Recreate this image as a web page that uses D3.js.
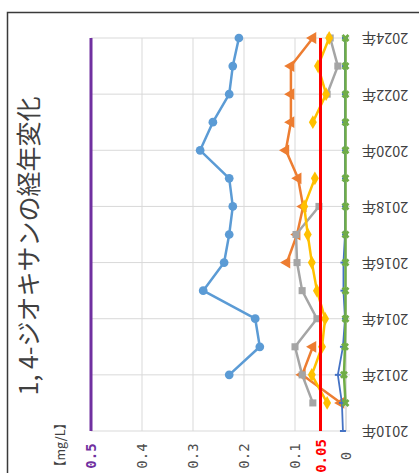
<!DOCTYPE html>
<html>
<head>
<meta charset="utf-8">
<script src="https://cdn.jsdelivr.net/npm/d3@7"></script>
<style>
  html, body { margin: 0; padding: 0; background: #fff; }
  svg { display: block; }
</style>
</head>
<body>
<div id="chart"></div>
<script>
// chart data
var years = [2010, 2011, 2012, 2013, 2014, 2015, 2016, 2017, 2018, 2019, 2020, 2021, 2022, 2023, 2024];
var yearLabels = [2010, 2012, 2014, 2016, 2018, 2020, 2022, 2024];
var valueTicks = [0.5, 0.4, 0.3, 0.2, 0.1, 0.05, 0];
var gridValues = [0.4, 0.3, 0.2, 0.1];

var seriesBlue   = [null, null, 0.229, 0.169, 0.178, 0.280, 0.239, 0.229, 0.222, 0.229, 0.286, 0.261, 0.229, 0.222, 0.210];
var seriesOrange = [null, 0.010, 0.086, 0.065, null, null, 0.116, 0.096, 0.084, 0.094, 0.118, 0.108, 0.108, 0.108, 0.065];
var seriesGray   = [null, 0.065, 0.086, 0.100, 0.057, 0.086, 0.096, 0.098, 0.053, null, null, null, 0.037, 0.016, 0.031];
var seriesYellow = [null, 0.037, 0.067, 0.047, 0.041, 0.057, 0.067, 0.075, 0.082, 0.061, null, 0.065, 0.039, 0.055, 0.033];
var seriesNavy   = [0.006, 0.008, 0.016, 0.006, 0.002, 0.005, 0.005, 0.002, 0.002, 0.002, 0.002, 0.002, 0.002, 0.002, 0.002];
var seriesGreen  = [null, 0.001, 0.004, 0.002, 0.001, 0.001, 0.001, 0.001, 0.001, 0.001, 0.001, 0.001, 0.001, 0.001, 0.001];

var limitLines = [0.5, 0.05];

var width = 419, height = 473;

var svg = d3.select("#chart").append("svg")
    .attr("width", width)
    .attr("height", height)
    .style("background", "#fff");

// the chart is drawn turned on its side: values run right to left, years bottom to top
var x = d3.scaleLinear().domain([0.5, 0]).range([91, 346]);
var y = d3.scaleLinear().domain([2010, 2024]).range([431, 38]);

// frame
svg.append("path")
    .attr("d", "M7.5,473 L7.5,12.5 L419,12.5")
    .attr("fill", "none")
    .attr("stroke", "#3a3a3a")
    .attr("stroke-width", 1.5);

// gridlines
var grid = svg.append("g").attr("stroke", "#d9d9d9").attr("stroke-width", 1);
grid.selectAll(".vg")
  .data(gridValues)
  .enter().append("line")
    .attr("x1", function (d) { return x(d); })
    .attr("x2", function (d) { return x(d); })
    .attr("y1", y(2024))
    .attr("y2", y(2010));
grid.selectAll(".hg")
  .data(yearLabels)
  .enter().append("line")
    .attr("x1", x(0.5))
    .attr("x2", x(0) + 4)
    .attr("y1", function (d) { return y(d); })
    .attr("y2", function (d) { return y(d); });
grid.append("line")
    .attr("x1", x(0)).attr("x2", x(0))
    .attr("y1", y(2024)).attr("y2", y(2010))
    .attr("stroke", "#bfbfbf");

// value axis (bottom, labels turned)
var valueColor = function (d) {
  if (d === 0.5) return "#7030a0";
  if (d === 0.05) return "#ff0000";
  return "#4d4d4d";
};
var xAxis = svg.append("g")
    .attr("transform", "translate(0,456)")
    .call(d3.axisBottom(x).tickValues(valueTicks).tickSize(0).tickFormat(function (d) { return d === 0 ? "0" : String(d); }));
xAxis.select(".domain").remove();
xAxis.selectAll("text")
    .attr("y", 0)
    .attr("dy", "0.35em")
    .attr("text-anchor", "middle")
    .attr("transform", "rotate(-90)")
    .style("font-family", "'DejaVu Sans Mono', 'Liberation Mono', monospace")
    .style("font-size", "14px")
    .style("font-weight", function (d) { return (d === 0.5 || d === 0.05) ? "bold" : "normal"; })
    .attr("fill", valueColor);

// year axis (right, labels upside down)
var yAxis = svg.append("g")
    .attr("transform", "translate(385,0)")
    .call(d3.axisRight(y).tickValues(yearLabels).tickSize(0).tickFormat(function (d) { return d + "年"; }));
yAxis.select(".domain").remove();
yAxis.selectAll("text")
    .attr("x", 0)
    .attr("dy", "0.35em")
    .attr("text-anchor", "middle")
    .attr("transform", "rotate(180)")
    .style("font-family", "'Noto Sans CJK JP', sans-serif")
    .style("font-size", "14.5px")
    .attr("fill", "#404040");

// title and unit
svg.append("text")
    .attr("transform", "translate(38,246) rotate(-90)")
    .attr("text-anchor", "middle")
    .style("font-family", "'Noto Sans CJK JP', sans-serif")
    .style("font-size", "25px")
    .attr("fill", "#404040")
    .text("1, 4-ジオキサンの経年変化");

svg.append("text")
    .attr("transform", "translate(65,445) rotate(-90)")
    .attr("text-anchor", "middle")
    .style("font-family", "'Noto Sans CJK JP', sans-serif")
    .style("font-size", "12.5px")
    .attr("fill", "#404040")
    .text("【mg/L】");

// series
var toPoints = function (vals) {
  return years.map(function (yr, i) { return { year: yr, value: vals[i] }; });
};
var line = d3.line()
    .defined(function (d) { return d.value != null; })
    .x(function (d) { return x(d.value); })
    .y(function (d) { return y(d.year); });

var series = [
  { vals: seriesBlue,   color: "#5b9bd5", symbol: d3.symbolCircle,   size: 60, rot: 0 },
  { vals: seriesOrange, color: "#ed7d31", symbol: d3.symbolTriangle, size: 60, rot: -90 },
  { vals: seriesGray,   color: "#a5a5a5", symbol: d3.symbolSquare,   size: 50, rot: 0 },
  { vals: seriesYellow, color: "#ffc000", symbol: d3.symbolDiamond,  size: 55, rot: 0 },
  { vals: seriesNavy,   color: "#4472c4", symbol: null,              size: 0,  rot: 0 },
  { vals: seriesGreen,  color: "#70ad47", symbol: d3.symbolCross,    size: 40, rot: 45 }
];

series.forEach(function (s) {
  var pts = toPoints(s.vals);
  var g = svg.append("g");
  g.append("path")
      .datum(pts)
      .attr("fill", "none")
      .attr("stroke", s.color)
      .attr("stroke-width", s.color === "#4472c4" ? 1.8 : 2.5)
      .attr("stroke-linejoin", "round")
      .attr("d", line);
  var defined = pts.filter(function (d) { return d.value != null; });
  if (s.symbol) {
    g.selectAll("path.mark")
      .data(defined)
      .enter().append("path")
        .attr("class", "mark")
        .attr("d", d3.symbol().type(s.symbol).size(s.size))
        .attr("transform", function (d) {
          return "translate(" + x(d.value) + "," + y(d.year) + ") rotate(" + s.rot + ")";
        })
        .attr("fill", s.color);
  } else {
    // dash markers
    g.selectAll("line.mark")
      .data(defined)
      .enter().append("line")
        .attr("class", "mark")
        .attr("x1", function (d) { return x(d.value) - 3; })
        .attr("x2", function (d) { return x(d.value) + 3; })
        .attr("y1", function (d) { return y(d.year); })
        .attr("y2", function (d) { return y(d.year); })
        .attr("stroke", s.color)
        .attr("stroke-width", 2);
  }
});

// limit lines
var limitColors = ["#7030a0", "#ff0000"];
svg.selectAll(".limit")
  .data(limitLines)
  .enter().append("line")
    .attr("class", "limit")
    .attr("x1", function (d) { return x(d); })
    .attr("x2", function (d) { return x(d); })
    .attr("y1", y(years[0]))
    .attr("y2", y(years[years.length - 1]))
    .attr("stroke", function (d, i) { return limitColors[i]; })
    .attr("stroke-width", 3);
</script>
</body>
</html>
